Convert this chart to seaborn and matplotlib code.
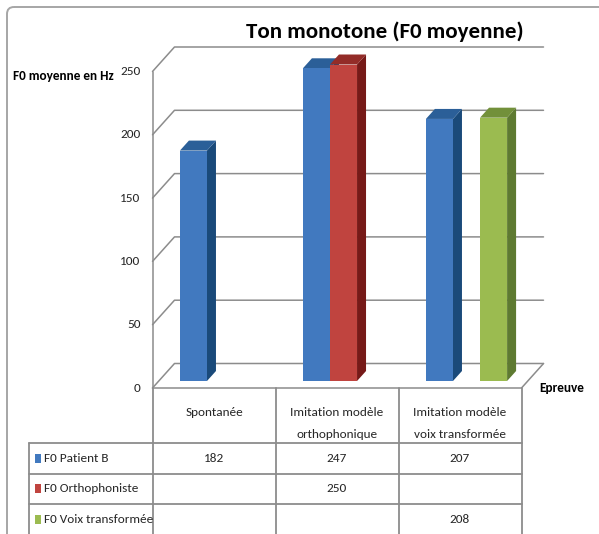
import numpy as np
import pandas as pd
import matplotlib
matplotlib.use("Agg")
import matplotlib.pyplot as plt
import matplotlib.colors as mcolors
from matplotlib import font_manager
from matplotlib.patches import Polygon, Rectangle, FancyBboxPatch
import seaborn as sns

# ---- data -------------------------------------------------------------
categories = ["Spontanée",
              "Imitation modèle\northophonique",
              "Imitation modèle\nvoix transformée"]
series = ["F0 Patient B", "F0 Orthophoniste", "F0 Voix transformée"]
f0_patient_b = [182, 247, 207]
f0_orthophoniste = [np.nan, 250, np.nan]
f0_voix_transformee = [np.nan, np.nan, 208]
y_ticks = [0, 50, 100, 150, 200, 250]

title = "Ton monotone (F0 moyenne)"
y_label = "F0 moyenne en Hz"
x_label = "Epreuve"

# ---- style ------------------------------------------------------------
front_colors = ["#4179BF", "#C0443F", "#9BBB50"]
side_colors = ["#1A4A7A", "#761A18", "#5E7A31"]
top_colors = ["#2B5F98", "#932C28", "#72903A"]
grid_color = "#8C8C8C"
text_color = "#262626"

sns.set_style("white")
installed = {f.name for f in font_manager.fontManager.ttflist}
preferred = ["Carlito", "Fira Sans Condensed", "PT Sans Narrow",
             "Roboto Condensed", "Liberation Sans"]
base_font = next(f for f in preferred if f in installed)
plt.rcParams["font.family"] = [base_font, "DejaVu Sans"]

W, H = 599, 534
values = [f0_patient_b, f0_orthophoniste, f0_voix_transformee]
rows = []
for s, vals in zip(series, values):
    for c, v in zip(categories, vals):
        if not np.isnan(v):
            rows.append({"Epreuve": c, "Serie": s, "F0": v})
df = pd.DataFrame(rows)

fig = plt.figure(figsize=(W / 100, H / 100), dpi=100)
fig.patch.set_facecolor("white")

# plot plane = front faces of the bars
ax = fig.add_axes([159 / W, 1 - 381 / H, 369 / W, 316.5 / H])
sns.barplot(data=df, x="Epreuve", y="F0", hue="Serie",
            order=categories, hue_order=series,
            palette=dict(zip(series, front_colors)), saturation=1,
            width=0.66, dodge=True, errorbar=None, legend=False,
            linewidth=0, ax=ax)
ax.set_xlim(-0.5, len(categories) - 0.5)
ax.set_ylim(y_ticks[0], y_ticks[-1])
ax.axis("off")

# pixel offsets of the front edge, back wall and bar depth
FRONT = np.array([-6.5, -7.0])
BACK = np.array([15.5, 17.5])
DEPTH = np.array([9.0, 10.0])


def shifted(x, y, off):
    p = ax.transData.transform((x, y)) + off
    return ax.transData.inverted().transform(p)


x_lo, x_hi = ax.get_xlim()

# back wall gridlines + side wall diagonals
for v in y_ticks:
    fl = shifted(x_lo, v, FRONT)
    bl = shifted(x_lo, v, BACK)
    br = shifted(x_hi, v, BACK)
    ax.plot([fl[0], bl[0], br[0]], [fl[1], bl[1], br[1]],
            color=grid_color, lw=1.1, zorder=0.5, clip_on=False)

# vertical axis line on the front edge
a = shifted(x_lo, y_ticks[0], FRONT)
b = shifted(x_lo, y_ticks[-1], FRONT)
ax.plot([a[0], b[0]], [a[1], b[1]], color=grid_color, lw=1.1, zorder=0.5, clip_on=False)

# floor outline
f1 = shifted(x_lo, 0, FRONT)
f2 = shifted(x_hi, 0, FRONT)
f3 = shifted(x_hi, 0, BACK)
ax.plot([f1[0], f2[0], f3[0]], [f1[1], f2[1], f3[1]],
        color=grid_color, lw=1.1, zorder=0.5, clip_on=False)

# 3D side and top faces for every bar
bars = sorted([p for p in ax.patches if isinstance(p, Rectangle)], key=lambda p: p.get_x())
front_rgba = [mcolors.to_rgba(c) for c in front_colors]
for i, p in enumerate(bars):
    fc = p.get_facecolor()
    k = int(np.argmin([np.abs(np.array(fc) - np.array(c)).sum() for c in front_rgba]))
    x0 = p.get_x()
    x1 = x0 + p.get_width()
    h = p.get_height()
    side = [(x1, 0), (x1, h), tuple(shifted(x1, h, DEPTH)), tuple(shifted(x1, 0, DEPTH))]
    top = [(x0, h), (x1, h), tuple(shifted(x1, h, DEPTH)), tuple(shifted(x0, h, DEPTH))]
    ax.add_patch(Polygon(side, closed=True, fc=side_colors[k], ec="none",
                         zorder=2 + 2 * i, clip_on=False))
    ax.add_patch(Polygon(top, closed=True, fc=top_colors[k], ec="none",
                         zorder=2 + 2 * i, clip_on=False))
    p.set_zorder(3 + 2 * i)

# ---- overlay in pixel coordinates for texts and the data table ----------
ov = fig.add_axes([0, 0, 1, 1])
ov.set_xlim(0, W)
ov.set_ylim(H, 0)
ov.axis("off")


def to_img(x, y, off):
    d = ax.transData.transform((x, y)) + off
    return d[0], H - d[1]


# outer chart frame
ov.add_patch(FancyBboxPatch((7, 7), 660, 600,
                            boxstyle="round,pad=0,rounding_size=7",
                            fc="none", ec="#A6A6A6", lw=1.4))

# y tick labels
for v in y_ticks:
    xi, yi = to_img(x_lo, v, FRONT)
    ov.text(xi - 12, yi, str(v), ha="right", va="center",
            fontsize=9.5, color=text_color)

ov.text(385, 32, title, ha="center", va="center",
        fontsize=16.5, fontweight="bold", color="black")
ov.text(13, 76, y_label, ha="left", va="center",
        fontsize=9.5, fontweight="bold", color="black")
ov.text(539, 388, x_label, ha="left", va="center",
        fontsize=9.5, fontweight="bold", color="black")

# data table
edges = [to_img(x, 0, FRONT)[0] for x in np.arange(x_lo, x_hi + 0.01, 1.0)]
table_top = to_img(x_lo, 0, FRONT)[1]
header_bottom = 443
row_h = 30.5
row_left = 29
tcol = "#8C8C8C"

for xe in edges:
    ov.plot([xe, xe], [table_top, H + 2], color=tcol, lw=1.3)
ov.plot([row_left, row_left], [header_bottom, H + 2], color=tcol, lw=1.3)
for r in range(len(series) + 1):
    yl = header_bottom + r * row_h
    ov.plot([row_left, edges[-1]], [yl, yl], color=tcol, lw=1.3)

centers = [(edges[j] + edges[j + 1]) / 2 for j in range(len(categories))]
for c, xc in zip(categories, centers):
    for li, line in enumerate(c.split("\n")):
        ov.text(xc, 413 + 21 * li, line, ha="center", va="center",
                fontsize=9.5, color=text_color)

for r, (s, vals) in enumerate(zip(series, values)):
    yc = header_bottom + (r + 0.5) * row_h
    ov.add_patch(Rectangle((35, yc - 4.5), 6, 9, fc=front_colors[r], ec="none"))
    ov.text(44, yc, s, ha="left", va="center", fontsize=9.5, color=text_color)
    for xc, v in zip(centers, vals):
        if not np.isnan(v):
            ov.text(xc, yc, f"{int(v)}", ha="center", va="center",
                    fontsize=9.5, color=text_color)

fig.savefig("out.png", dpi=100, facecolor="white")
